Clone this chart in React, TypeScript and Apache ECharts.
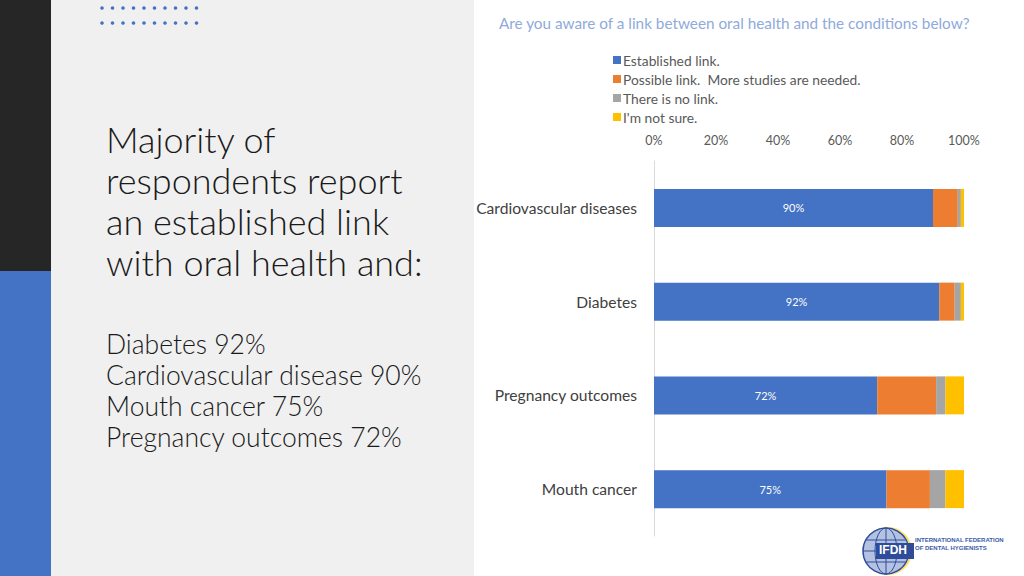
import React, { useEffect, useRef } from "react";
import * as echarts from "echarts";

const categories = ["Cardiovascular diseases", "Diabetes", "Pregnancy outcomes", "Mouth cancer"];
const established = [90, 92, 72, 75];
const possible = [8, 5, 19, 14];
const noLink = [1, 2, 3, 5];
const notSure = [1, 1, 6, 6];
const seriesNames = ["Established link.", "Possible link.  More studies are needed.", "There is no link.", "I'm not sure."];
const colors = ["#4472C4", "#ED7D31", "#A5A5A5", "#FFC000"];
const headline = ["Majority of", "respondents report", "an established link", "with oral health and:"];
const summary = ["Diabetes 92%", "Cardiovascular disease 90%", "Mouth cancer 75%", "Pregnancy outcomes 72%"];

export default function App() {
  const ref = useRef<HTMLDivElement>(null);
  useEffect(() => {
    if (!ref.current) return;
    const chart = echarts.init(ref.current, null, { renderer: "svg" });
    const font = "Lato, 'Open Sans', sans-serif";
    const dots: any[] = [];
    for (let r = 0; r < 2; r++) {
      for (let i = 0; i < 10; i++) {
        dots.push({ type: "circle", shape: { cx: 102 + i * 10.5, cy: 8 + r * 15, r: 1.8 }, style: { fill: "#4472C4" } });
      }
    }
    const graphic: any[] = [
      { type: "rect", z: -10, shape: { x: 0, y: 0, width: 51, height: 271 }, style: { fill: "#262626" } },
      { type: "rect", z: -10, shape: { x: 0, y: 271, width: 51, height: 305 }, style: { fill: "#4472C4" } },
      { type: "rect", z: -10, shape: { x: 51, y: 0, width: 423, height: 576 }, style: { fill: "#F0F0F0" } },
      ...dots,
      ...headline.map((t, i) => ({
        type: "text", left: 106, top: 121 + i * 41,
        style: { text: t, fontSize: 36, fontFamily: font, fontWeight: 300, fill: "#1a1a1a" },
      })),
      ...summary.map((t, i) => ({
        type: "text", left: 106, top: 330 + i * 31,
        style: { text: t, fontSize: 26.5, fontFamily: font, fontWeight: 300, fill: "#1a1a1a" },
      })),
      // logo
      { type: "circle", shape: { cx: 888, cy: 551, r: 24 }, style: { fill: "#FFE066" } },
      { type: "circle", shape: { cx: 886, cy: 551, r: 23 }, style: { fill: "#B4C2E2", stroke: "#2E4C9A", lineWidth: 1.5 } },
      { type: "line", shape: { x1: 863, y1: 551, x2: 909, y2: 551 }, style: { stroke: "#2E4C9A", lineWidth: 1 } },
      { type: "line", shape: { x1: 886, y1: 528, x2: 886, y2: 574 }, style: { stroke: "#2E4C9A", lineWidth: 1 } },
      { type: "ellipse", shape: { cx: 886, cy: 551, rx: 11, ry: 23 }, style: { fill: "none", stroke: "#2E4C9A", lineWidth: 1 } },
      { type: "line", shape: { x1: 866, y1: 540, x2: 906, y2: 540 }, style: { stroke: "#2E4C9A", lineWidth: 1 } },
      { type: "line", shape: { x1: 866, y1: 562, x2: 906, y2: 562 }, style: { stroke: "#2E4C9A", lineWidth: 1 } },
      { type: "rect", shape: { x: 876, y: 543, width: 38, height: 16 }, style: { fill: "#2E4C9A" } },
      { type: "text", left: 879, top: 544, style: { text: "IFDH", fontSize: 12, fontWeight: "bold", fontFamily: "'Liberation Sans', sans-serif", fill: "#FFFFFF" } },
      { type: "text", left: 915, top: 537, style: { text: "INTERNATIONAL FEDERATION", fontSize: 6, fontWeight: "bold", fontFamily: "'Liberation Sans', sans-serif", fill: "#3A5AA8" } },
      { type: "text", left: 915, top: 545, style: { text: "OF DENTAL HYGIENISTS", fontSize: 6, fontWeight: "bold", fontFamily: "'Liberation Sans', sans-serif", fill: "#3A5AA8" } },
    ];
    const data = [established, possible, noLink, notSure];
    chart.setOption({
      animation: false,
      textStyle: { fontFamily: font },
      title: {
        text: "Are you aware of a link between oral health and the conditions below?",
        left: 494, top: 10,
        textStyle: { fontSize: 15.3, fontWeight: "normal", color: "#8FAADC", fontFamily: font },
      },
      legend: {
        orient: "vertical", left: 608, top: 48, itemWidth: 8, itemHeight: 8, itemGap: 5,
        icon: "rect",
        textStyle: { fontSize: 13.8, color: "#595959", fontFamily: font, padding: [0, 0, 0, -3] },
        data: seriesNames,
      },
      grid: { left: 654, right: 60, top: 161, bottom: 40 },
      xAxis: {
        type: "value", position: "top", min: 0, max: 100, interval: 20,
        axisLabel: { formatter: "{value}%", fontSize: 12.5, color: "#595959", margin: 14 },
        axisLine: { show: false }, axisTick: { show: false }, splitLine: { show: false },
      },
      yAxis: {
        type: "category", data: categories, inverse: true,
        axisLine: { show: true, lineStyle: { color: "#D9D9D9" } },
        axisTick: { show: false },
        axisLabel: { fontSize: 15.6, color: "#404040", margin: 17 },
      },
      series: data.map((d, i) => ({
        name: seriesNames[i], type: "bar", stack: "total", data: d, barWidth: 38,
        itemStyle: { color: colors[i] },
        label: i === 0 ? { show: true, position: "inside", formatter: "{c}%", color: "#FFFFFF", fontSize: 11 } : { show: false },
      })),
      graphic,
    });
    return () => chart.dispose();
  }, []);
  return <div ref={ref} style={{ position: "fixed", left: 0, top: 0, width: 1024, height: 576, background: "#FFFFFF" }} />;
}
